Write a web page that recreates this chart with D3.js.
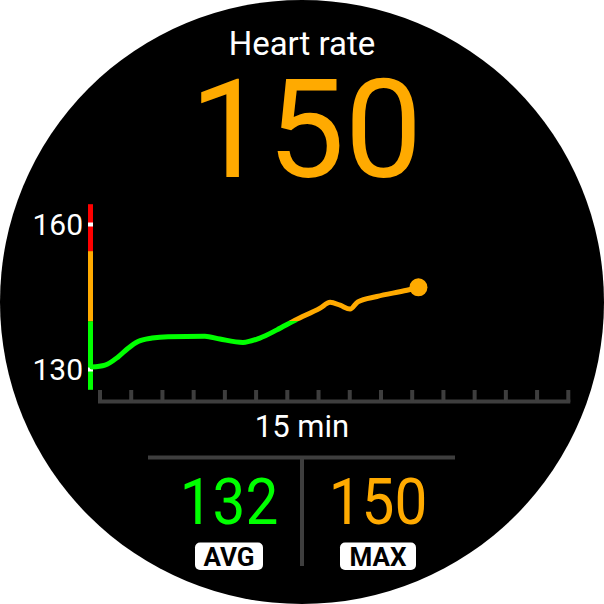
<!DOCTYPE html>
<html>
<head>
<meta charset="utf-8">
<script src="https://cdn.jsdelivr.net/npm/d3@7"></script>
<style>
  body { margin: 0; background: #fff; }
  svg { display: block; }
  text { font-family: Roboto, "Noto Sans", sans-serif; }
</style>
</head>
<body>
<script>
// heart rate trace, minutes vs bpm
var times  = [-0.26, 0.16, 0.58, 0.90, 1.22, 1.67, 2.18, 3.36, 3.84, 4.58, 5.12, 5.67, 6.25, 7.05, 7.37, 7.69, 8.01, 8.26, 8.87, 9.83, 10.2];
var values = [130.5, 130.9, 132.6, 134.4, 135.8, 136.5, 136.8, 136.9, 136.3, 135.6, 136.5, 138.2, 140.2, 142.7, 143.9, 143.3, 142.5, 144.0, 145.1, 146.4, 147.0];

// zones on the left bar
var zoneFrom   = [125.8, 140, 154.5];
var zoneTo     = [140, 154.5, 164.2];
var zoneColors = ["#00ff00", "#ffaa00", "#ff0000"];

var yTicks = [130, 160];
var xMinutes = 15;

var title = "Heart rate";
var current = 150;
var xLabel = "15 min";
var statNames  = ["AVG", "MAX"];
var statValues = [132, 150];
var statColors = ["#00ff00", "#ffaa00"];

var w = 604, h = 604;
var grey = "#3e3e3e";

var svg = d3.select("body").append("svg").attr("width", w).attr("height", h);

svg.append("circle").attr("cx", 302).attr("cy", 302).attr("r", 302).attr("fill", "#000");

var x = d3.scaleLinear().domain([0, xMinutes]).range([100, 568.3]);
var y = d3.scaleLinear().domain([130, 160]).range([369.5, 224.5]);

// header
svg.append("text").attr("x", 302).attr("y", 55)
    .attr("text-anchor", "middle").attr("fill", "#fff")
    .style("font-size", "33px").text(title);

svg.append("text").attr("x", 306).attr("y", 177)
    .attr("text-anchor", "middle").attr("fill", "#ffaa00")
    .style("font-size", "138px").text(current);

// colour gradient for the trace (hard stops at zone limits)
var lo = zoneFrom[0], hi = zoneTo[zoneTo.length - 1];
var grad = svg.append("defs").append("linearGradient")
    .attr("id", "hrGrad").attr("gradientUnits", "userSpaceOnUse")
    .attr("x1", 0).attr("x2", 0).attr("y1", y(lo)).attr("y2", y(hi));
var off = d3.scaleLinear().domain([lo, hi]).range([0, 1]);
zoneFrom.forEach(function(f, i) {
    grad.append("stop").attr("offset", off(f)).attr("stop-color", zoneColors[i]);
    grad.append("stop").attr("offset", off(zoneTo[i])).attr("stop-color", zoneColors[i]);
});

// x ruler
var xAxis = svg.append("g");
xAxis.append("line")
    .attr("x1", x(0) - 2).attr("x2", x(xMinutes) + 2)
    .attr("y1", 401.5).attr("y2", 401.5)
    .attr("stroke", grey).attr("stroke-width", 4);
xAxis.selectAll("line.tick")
    .data(x.ticks(xMinutes))
    .enter().append("line")
    .attr("class", "tick")
    .attr("x1", function(d) { return x(d) }).attr("x2", function(d) { return x(d) })
    .attr("y1", 390).attr("y2", 402)
    .attr("stroke", grey).attr("stroke-width", 4);

svg.append("text").attr("x", 302).attr("y", 437)
    .attr("text-anchor", "middle").attr("fill", "#fff")
    .style("font-size", "31px").text(xLabel);

// zone bar
svg.selectAll("rect.zone")
    .data(zoneFrom)
    .enter().append("rect")
    .attr("class", "zone")
    .attr("x", 88).attr("width", 5)
    .attr("y", function(d, i) { return y(zoneTo[i]) })
    .attr("height", function(d, i) { return y(d) - y(zoneTo[i]) })
    .attr("fill", function(d, i) { return zoneColors[i] });

svg.selectAll("rect.ymark")
    .data(yTicks)
    .enter().append("rect")
    .attr("class", "ymark")
    .attr("x", 88).attr("width", 5)
    .attr("y", function(d) { return y(d) - 2 }).attr("height", 4)
    .attr("fill", "#fff");

svg.selectAll("text.ylab")
    .data(yTicks)
    .enter().append("text")
    .attr("class", "ylab")
    .attr("x", 83).attr("y", function(d) { return y(d) + 10.5 })
    .attr("text-anchor", "end").attr("fill", "#fff")
    .style("font-size", "30px").text(function(d) { return d });

// trace
var pts = times.map(function(t, i) { return [t, values[i]] });
var line = d3.line()
    .x(function(d) { return x(d[0]) })
    .y(function(d) { return y(d[1]) })
    .curve(d3.curveMonotoneX);

svg.append("path").datum(pts)
    .attr("d", line)
    .attr("fill", "none")
    .attr("stroke", "url(#hrGrad)")
    .attr("stroke-width", 5)
    .attr("stroke-linecap", "round");

var last = pts[pts.length - 1];
svg.append("circle")
    .attr("cx", x(last[0])).attr("cy", y(last[1])).attr("r", 9)
    .attr("fill", "#ffaa00");

// stats
svg.append("line").attr("x1", 148).attr("x2", 455).attr("y1", 457.5).attr("y2", 457.5)
    .attr("stroke", grey).attr("stroke-width", 4);
svg.append("line").attr("x1", 302).attr("x2", 302).attr("y1", 457).attr("y2", 566)
    .attr("stroke", grey).attr("stroke-width", 4);

var statX = [229, 378];
var boxW = [68, 76];
statNames.forEach(function(name, i) {
    svg.append("text")
        .attr("transform", "translate(" + statX[i] + ",523.5) scale(0.9,1)")
        .attr("text-anchor", "middle").attr("fill", statColors[i])
        .style("font-size", "65px").text(statValues[i]);
    svg.append("rect")
        .attr("x", statX[i] - boxW[i] / 2).attr("y", 542.5)
        .attr("width", boxW[i]).attr("height", 27.5)
        .attr("rx", 5).attr("fill", "#fff");
    svg.append("text").attr("x", statX[i]).attr("y", 566)
        .attr("text-anchor", "middle").attr("fill", "#000")
        .style("font-size", "26px").style("font-weight", "bold").text(name);
});
</script>
</body>
</html>
